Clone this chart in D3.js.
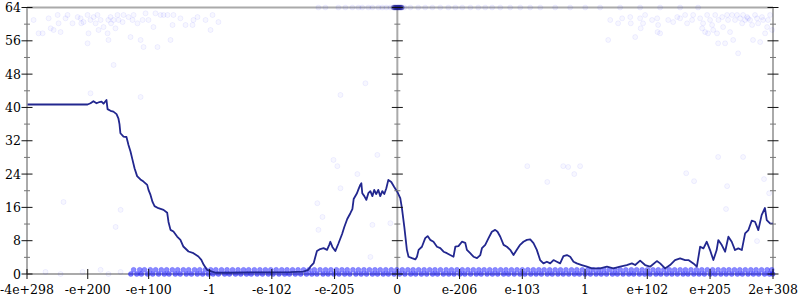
<!DOCTYPE html>
<html>
<head>
<meta charset="utf-8">
<script src="https://cdn.jsdelivr.net/npm/d3@7"></script>
<style>
body { margin: 0; background: #fff; }
svg { display: block; font-family: "DejaVu Serif", serif; font-size: 12.5px; }
</style>
</head>
<body>
<script>
// Anonymous function to keep all variables local
(function(){

    // x is the float position in exponent units: 0 = zero, +-1023 = +-1
    var xTickPos = [-2018, -1687, -1355, -1023, -684, -342, 0, 339, 681, 1023, 1362, 1704, 2047];
    var xTickLabels = ["-4e+298", "-e+200", "-e+100", "-1", "-e-102", "-e-205", "0",
        "e-206", "e-103", "1", "e+102", "e+205", "2e+308"];
    var yTicks = [0, 8, 16, 24, 32, 40, 48, 56, 64];
    var yMinorTicks = [4, 12, 20, 28, 36, 44, 52, 60];

    // running average line
    var lineX = [-2015, -1688, -1672, -1656, -1639, -1623, -1612, -1601, -1585, -1579,
        -1563, -1547, -1530, -1520, -1514, -1509, -1492, -1476, -1465, -1454,
        -1443, -1432, -1418, -1400, -1383, -1363, -1356, -1345, -1334, -1323,
        -1302, -1274, -1254, -1247, -1236, -1220, -1200, -1182, -1166, -1138,
        -1111, -1084, -1068, -1055, -1037, -1009, -991, -910, -801, -692,
        -583, -512, -485, -474, -456, -447, -438, -420, -402, -383,
        -371, -365, -354, -338, -322, -301, -289, -273, -256, -245,
        -238, -220, -213, -202, -196, -191, -180, -169, -158, -147,
        -136, -126, -115, -104, -93, -82, -71, -60, -49, -33,
        -17, 0, 16, 25, 38, 52, 61, 80, 98, 107,
        116, 134, 152, 165, 179, 197, 216, 234, 252, 270,
        288, 306, 316, 333, 352, 370, 379, 397, 415, 434,
        452, 461, 479, 497, 515, 533, 546, 561, 579, 597,
        615, 633, 651, 669, 687, 706, 724, 742, 760, 778,
        796, 815, 833, 851, 869, 887, 905, 924, 942, 960,
        978, 1005, 1033, 1060, 1087, 1105, 1142, 1177, 1214, 1250,
        1278, 1296, 1323, 1350, 1377, 1414, 1432, 1459, 1486, 1513,
        1541, 1568, 1586, 1613, 1632, 1650, 1668, 1686, 1704, 1722,
        1740, 1749, 1768, 1786, 1804, 1822, 1840, 1858, 1877, 1895,
        1913, 1931, 1949, 1967, 1985, 2003, 2013, 2031, 2047];
    var lineY = [40.7, 40.7, 41.0, 41.5, 41.0, 41.3, 41.4, 40.9, 41.8, 39.6,
        39.2, 39.0, 38.4, 37.4, 36.0, 33.8, 33.0, 32.9, 31.0, 29.4,
        27.4, 25.4, 23.5, 22.7, 22.2, 21.4, 20.2, 19.0, 17.3, 16.3,
        15.8, 15.4, 14.7, 12.5, 10.6, 10.2, 9.0, 8.2, 6.6, 5.4,
        5.0, 4.2, 3.4, 2.2, 1.0, 0.55, 0.3, 0.3, 0.4, 0.4,
        0.43, 0.55, 1.0, 1.75, 2.6, 4.1, 5.5, 6.0, 6.2, 5.8,
        7.0, 7.75, 6.5, 5.5, 7.2, 9.6, 11.3, 13.2, 14.6, 15.6,
        18.0, 19.4, 20.2, 21.4, 21.8, 19.4, 18.7, 17.8, 19.4, 19.9,
        18.7, 20.2, 19.2, 20.2, 18.7, 19.9, 19.2, 20.6, 22.6, 22.1,
        20.9, 19.7, 18.2, 15.8, 11.3, 5.8, 4.15, 3.8, 3.5, 4.15,
        5.8, 6.55, 8.6, 9.1, 8.2, 7.75, 6.55, 6.2, 5.35, 5.0,
        4.55, 4.15, 6.55, 6.7, 7.75, 7.5, 5.8, 5.0, 4.15, 3.8,
        4.55, 6.2, 7.0, 8.6, 10.15, 10.6, 10.15, 8.95, 7.0, 6.55,
        5.8, 4.55, 5.8, 7.0, 7.75, 8.2, 8.3, 7.4, 5.8, 3.35,
        2.55, 2.95, 2.55, 3.35, 2.95, 2.55, 4.3, 4.55, 4.15, 2.95,
        2.55, 2.15, 1.75, 1.35, 1.35, 1.35, 1.75, 1.35, 1.75, 2.15,
        2.55, 2.15, 3.2, 2.15, 1.75, 3.1, 2.55, 1.35, 2.15, 3.35,
        3.75, 3.35, 3.35, 2.55, 1.75, 6.55, 6.15, 7.75, 5.75, 3.35,
        5.75, 8.15, 6.95, 5.35, 8.95, 7.75, 5.75, 6.15, 5.75, 9.75,
        10.55, 12.8, 12.55, 10.55, 14.15, 15.85, 12.95, 12.15, 12.1];

    // single samples
    var sampleX = [-1982, -1955, -1933, -1900, -1889, -1873, -1851, -1846, -1835, -1808,
        -1797, -1770, -1742, -1726, -1722, -1710, -1688, -1683, -1688, -1672,
        -1655, -1644, -1634, -1628, -1617, -1601, -1579, -1575, -1563, -1560,
        -1574, -1546, -1536, -1525, -1519, -1497, -1492, -1465, -1454, -1443,
        -1437, -1416, -1399, -1388, -1383, -1372, -1356, -1329, -1318, -1307,
        -1290, -1274, -1252, -1236, -1225, -1220, -1182, -1154, -1116, -1111,
        -1089, -1045, -1007, -975, -1018, -1546, -1672, -1399,
        1160, 1203, 1225, 1269, 1272, 1323, 1326, 1339, 1350, 1388,
        1416, 1421, 1418, 1432, 1149, 1296, 1476, 1503, 1525, 1541,
        1568, 1579, 1606, 1612, 1650, 1661, 1666, 1677, 1688, 1693,
        1704, 1715, 1721, 1732, 1742, 1748, 1750, 1770, 1775, 1786,
        1797, 1802, 1813, 1824, 1830, 1840, 1851, 1857, 1868, 1879,
        1884, 1895, 1906, 1911, 1922, 1933, 1938, 1949, 1960, 1966,
        1977, 1987, 1993, 2004, 2015, 2020, 2031, 2042,
        -174, -310, -109, -348, -327, -218, -310, -436, -408, -430,
        -136, -38, -147, 708, 904, 931, 996, 964, 817, 1748,
        1884, 1574, 1617, 1797, 1998, 2026, 1791, 1960, -1819, -1508,
        -1535, -1917, -1835, -1715, -1617, -1574, -1508];
    var sampleY = [61.0, 57.8, 57.8, 61.4, 59.0, 58.6, 62.2, 60.2, 58.1, 61.4,
        62.2, 60.2, 61.7, 61.4, 60.2, 60.5, 62.2, 57.8, 55.4, 61.0,
        61.7, 60.2, 62.2, 58.6, 61.0, 59.3, 57.8, 61.0, 61.7, 60.2,
        56.2, 61.0, 59.0, 62.2, 61.0, 60.5, 62.2, 61.7, 56.9, 61.0,
        62.2, 60.2, 56.2, 61.0, 54.5, 62.6, 61.0, 59.3, 62.6, 54.5,
        62.2, 62.2, 62.2, 56.2, 59.8, 62.2, 61.4, 59.8, 59.8, 61.0,
        61.7, 61.0, 62.2, 60.5, 58.6, 50.2, 43.4, 42.5,
        61.0, 60.2, 61.4, 61.7, 60.2, 61.4, 59.0, 60.2, 62.2, 61.0,
        61.4, 59.8, 58.1, 57.8, 56.2, 56.9, 61.0, 60.5, 61.7, 61.4,
        62.2, 60.2, 61.0, 62.2, 61.4, 59.0, 60.2, 58.1, 62.2, 57.8,
        61.0, 59.8, 58.6, 62.2, 57.8, 55.4, 61.0, 61.7, 59.3, 55.4,
        62.2, 61.0, 58.1, 62.2, 56.2, 61.0, 62.2, 53.0, 61.4, 60.2,
        62.2, 61.0, 61.7, 61.4, 61.0, 59.8, 56.2, 62.2, 61.4, 60.2,
        55.7, 61.7, 61.0, 57.8, 59.3, 61.0, 62.2, 58.6,
        45.8, 43.0, 28.6, 27.4, 25.9, 24.0, 20.6, 17.0, 13.7, 10.6,
        11.8, 12.2, 4.1, 25.9, 25.9, 25.7, 25.9, 24.0, 22.1, 28.1,
        28.1, 24.2, 22.3, 21.1, 22.8, 19.4, 15.6, 7.9, 17.3, 15.4,
        11.3, 0.5, 0, 0.5, 1, 0, 0.5];

    // samples sitting on the 64 line
    var topEdgeX = [-430, -392, -321, -283, -245, -212, -191, -158, -136, -103,
        -82, -60, -38, -22, -11, 0, 5, 11, 16, 22, 27, 38, 71, 114, 152,
        191, 234, 278, 316, 354, 398, 441, 479, 517, 561, 615, 670, 724,
        779, 860, 942, 1024, 1105, 1214, 1323, 1432, 1541, 1639];
    var topPileX = [-20, -16, -12, -8, -4, 0, 4, 8, 12, 16, 20, 24];

    // dense rows of samples at 0 and 1 (each mark stands for several samples)
    var bandCount = 12;
    var bandX0 = [-1452, -1420, -1395, -1361, -1333, -1301, -1270, -1244, -1210, -1183,
        -1150, -1122, -1090, -1061, -1030, -1004, -975, -941, -915, -882,
        -853, -822, -796, -764, -735, -703, -677, -645, -614, -588,
        -556, -527, -495, -466, -438, -405, -377, -346, -318, -287,
        -259, -226, -197, -168, -136, -108, -77, -49, -18, 12,
        41, 73, 100, 131, 160, 192, 219, 251, 280, 309,
        341, 368, 399, 430, 457, 489, 518, 547, 579, 606,
        637, 668, 695, 727, 756, 785, 817, 844, 875, 904,
        934, 965, 992, 1023, 1052, 1083, 1111, 1140, 1172, 1199,
        1230, 1261, 1288, 1319, 1348, 1377, 1409, 1436, 1467, 1496,
        1526, 1557, 1584, 1615, 1644, 1673, 1705, 1732, 1763, 1792,
        1822, 1853, 1880, 1911, 1940, 1969, 2001, 2028, 2045];
    var bandX1 = [-1437, -1404, -1378, -1346, -1317, -1286, -1257, -1226, -1197, -1166,
        -1137, -1105, -1077, -1046, -1017, -989, -958, -928, -898, -868,
        -838, -810, -779, -749, -719, -690, -660, -630, -601, -571,
        -541, -511, -481, -452, -421, -391, -362, -332, -302, -273,
        -242, -212, -182, -152, -122, -93, -63, -33, -3, 27,
        57, 86, 116, 146, 176, 205, 235, 266, 295, 325,
        354, 384, 414, 444, 473, 503, 533, 563, 592, 622,
        652, 681, 711, 741, 771, 800, 830, 860, 889, 919,
        949, 978, 1008, 1038, 1067, 1097, 1126, 1156, 1186, 1215,
        1245, 1275, 1304, 1334, 1363, 1393, 1422, 1452, 1482, 1511,
        1541, 1570, 1600, 1630, 1659, 1689, 1718, 1748, 1778, 1807,
        1837, 1866, 1896, 1926, 1955, 1985, 2015, 2040];

    var width = 800,
        height = 300;

    var xScale = d3.scaleLinear()
        .domain([-2018, 2047])
        .range([27, 773]);

    var yScale = d3.scaleLinear()
        .domain([0, 64])
        .range([274, 7.5]);

    var svg = d3.select("body")
        .append("svg")
        .attr("width", width)
        .attr("height", height);

    var axisGrey = "#aaa";

    //frame: top line, bottom line and the three vertical axes
    svg.append("line")
        .attr("x1", xScale(-2018)).attr("x2", xScale(2047))
        .attr("y1", yScale(64)).attr("y2", yScale(64))
        .attr("stroke", axisGrey).attr("stroke-width", 2);
    svg.append("line")
        .attr("x1", xScale(-2018)).attr("x2", xScale(2047))
        .attr("y1", yScale(0)).attr("y2", yScale(0))
        .attr("stroke", axisGrey).attr("stroke-width", 2);

    var vAxes = [-2018, 0, 2047];
    svg.selectAll(".vaxis")
        .data(vAxes)
        .enter()
        .append("line")
        .attr("class", "vaxis")
        .attr("x1", function(d){ return xScale(d); })
        .attr("x2", function(d){ return xScale(d); })
        .attr("y1", yScale(64))
        .attr("y2", yScale(0))
        .attr("stroke", axisGrey)
        .attr("stroke-width", 2);

    //samples
    function addDots(xs, ys, n, fillA, strokeA, color){
        var fa = 1 - Math.pow(1 - fillA, n),
            sa = 1 - Math.pow(1 - strokeA, n);
        svg.append("g")
            .selectAll("circle")
            .data(xs)
            .enter()
            .append("circle")
            .attr("cx", function(d){ return xScale(d); })
            .attr("cy", function(d, i){ return yScale(typeof ys == "number" ? ys : ys[i]); })
            .attr("r", 2.5)
            .attr("fill", "rgba(" + color + "," + fa + ")")
            .attr("stroke", "rgba(" + color + "," + sa + ")")
            .attr("stroke-width", 1);
    }
    addDots(sampleX, sampleY, 1, 0.03, 0.06, "0,0,255");
    addDots(topEdgeX, 64, 1, 0.05, 0.05, "0,0,255");
    addDots(bandX0, 0, bandCount, 0.06, 0.02, "0,0,255");
    addDots(bandX1, 1, bandCount, 0.05, 0.015, "0,0,255");
    addDots(topPileX, 64, 1, 0.35, 0.1, "30,30,140");

    //running average
    var line = d3.line()
        .x(function(d){ return xScale(d); })
        .y(function(d, i){ return yScale(lineY[i]); });

    svg.append("path")
        .datum(lineX)
        .attr("d", line)
        .attr("fill", "none")
        .attr("stroke", "#22278f")
        .attr("stroke-width", 1.8)
        .attr("stroke-linejoin", "round");

    //tick marks on the vertical axes
    vAxes.forEach(function(a){
        var ax = xScale(a);
        svg.append("g").selectAll("line")
            .data(yMinorTicks)
            .enter()
            .append("line")
            .attr("x1", ax - 3).attr("x2", ax + 3)
            .attr("y1", function(d){ return yScale(d); })
            .attr("y2", function(d){ return yScale(d); })
            .attr("stroke", "#777")
            .attr("stroke-width", 1);
        svg.append("g").selectAll("line")
            .data(yTicks)
            .enter()
            .append("line")
            .attr("x1", ax - 5.5).attr("x2", ax + 5.5)
            .attr("y1", function(d){ return yScale(d); })
            .attr("y2", function(d){ return yScale(d); })
            .attr("stroke", "#111")
            .attr("stroke-width", 1);
    });

    //y labels
    svg.append("g").selectAll("text")
        .data(yTicks)
        .enter()
        .append("text")
        .attr("x", xScale(-2018) - 6)
        .attr("y", function(d){ return yScale(d); })
        .attr("dy", "0.36em")
        .attr("text-anchor", "end")
        .attr("fill", "#000")
        .text(function(d){ return d; });

    //x ticks and labels
    svg.append("g").selectAll("line")
        .data(xTickPos)
        .enter()
        .append("line")
        .attr("x1", function(d){ return xScale(d); })
        .attr("x2", function(d){ return xScale(d); })
        .attr("y1", yScale(0) - 5)
        .attr("y2", yScale(0) + 5)
        .attr("stroke", "#111")
        .attr("stroke-width", 1);

    svg.append("g").selectAll("text")
        .data(xTickPos)
        .enter()
        .append("text")
        .attr("x", function(d){ return xScale(d); })
        .attr("y", 294)
        .attr("text-anchor", "middle")
        .attr("fill", "#000")
        .text(function(d, i){ return xTickLabels[i]; });

}) ();
</script>
</body>
</html>
